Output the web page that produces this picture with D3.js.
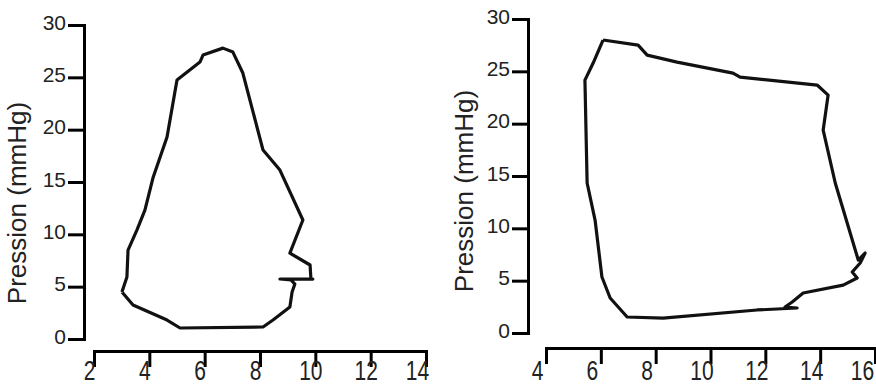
<!DOCTYPE html>
<html>
<head>
<meta charset="utf-8">
<script src="https://cdn.jsdelivr.net/npm/d3@7"></script>
<style>
    body { margin: 0; background: #fff; }
    svg { display: block; }
    .axis path, .axis line { stroke: #000; stroke-width: 3; }
    .axis text { font-family: "Liberation Sans", Arial, sans-serif; font-size: 21px; fill: #222; }
    .title { font-family: "Liberation Sans", Arial, sans-serif; font-size: 26px; fill: #222; }
    .loop { fill: none; stroke: #111; stroke-width: 3.2; stroke-linejoin: round; }
</style>
</head>
<body>
<div id="chart"></div>
<script>
// left loop (volume, pressure)
const leftVolume = [3.01, 3.19, 3.23, 3.55, 3.84, 4.13, 4.64, 5.00, 5.83, 5.94, 6.66, 7.02, 7.38, 8.11, 8.72,
    9.55, 9.08, 9.81, 9.84, 9.91, 8.72, 9.12, 9.26, 9.16, 9.08, 8.47, 8.11, 5.11, 4.64, 3.41, 3.01];
const leftPressure = [4.49, 5.92, 8.50, 10.41, 12.32, 15.38, 19.29, 24.74, 26.46, 27.13, 27.79, 27.41, 25.41, 18.05, 16.14,
    11.37, 8.21, 7.07, 5.73, 5.73, 5.73, 5.64, 5.25, 4.49, 3.06, 1.81, 1.15, 1.05, 1.81, 3.25, 4.49];

// right loop
const rightVolume = [6.08, 7.36, 7.69, 8.78, 10.82, 11.08, 13.89, 14.29, 14.11, 14.55, 15.39, 15.64, 15.46, 15.17, 15.35,
    14.84, 13.38, 12.98, 12.72, 13.16, 11.70, 8.27, 6.96, 6.34, 6.04, 5.79, 5.50, 5.42, 5.72, 6.08];
const rightPressure = [27.99, 27.51, 26.55, 25.88, 24.83, 24.45, 23.69, 22.73, 19.39, 14.33, 6.97, 7.64, 6.69, 5.83, 5.25,
    4.58, 3.82, 2.96, 2.48, 2.39, 2.20, 1.43, 1.53, 3.34, 5.35, 10.79, 14.33, 24.16, 25.79, 27.99];

const yTicks = [0, 5, 10, 15, 20, 25, 30];
const leftXTicks = [2, 4, 6, 8, 10, 12, 14];
const rightXTicks = [4, 6, 8, 10, 12, 14, 16];

const width = 876, height = 386;

let svg = d3.select("#chart").append("svg")
    .attr("width", width)
    .attr("height", height);

function drawPanel(opt) {
    let x = d3.scaleLinear().domain(opt.xDomain).range(opt.xRange);
    let y = d3.scaleLinear().domain([0, 30]).range(opt.yRange);

    // y axis
    let yAxis = svg.append("g")
        .attr("class", "axis")
        .attr("transform", "translate(" + opt.yAxisX + ",0)")
        .call(d3.axisLeft(y).tickValues(yTicks).tickSize(16).tickSizeOuter(0).tickPadding(2));
    yAxis.select(".domain").attr("stroke-linecap", "square");
    yAxis.selectAll("text").attr("dy", "0.2em");

    // x axis, labels are a bit stretched and sit left of the ticks
    let xAxis = svg.append("g")
        .attr("class", "axis")
        .attr("transform", "translate(0," + opt.xAxisY + ")")
        .call(d3.axisBottom(x).tickValues(opt.xTicks).tickSize(16).tickSizeOuter(0));
    xAxis.select(".domain").attr("stroke-linecap", "square");
    let last = opt.xTicks.length - 1;
    xAxis.selectAll("text")
        .attr("y", opt.xLabelY / 1.3)
        .attr("dy", 0)
        .attr("x", (d, i) => i === last ? opt.xLabelDx - 4 : opt.xLabelDx)
        .attr("transform", "scale(1,1.3)");

    svg.append("text")
        .attr("class", "title")
        .attr("text-anchor", "middle")
        .attr("transform", "translate(" + opt.titleX + "," + opt.titleY + ") rotate(-90)")
        .text("Pression (mmHg)");

    let pts = opt.vol.map((v, i) => [v, opt.pres[i]]);
    svg.append("path")
        .attr("class", "loop")
        .attr("d", d3.line().x(d => x(d[0])).y(d => y(d[1]))(pts));
}

drawPanel({
    xDomain: [2, 14], xRange: [94, 426], yRange: [339, 25],
    yAxisX: 84, xAxisY: 351, xTicks: leftXTicks, xLabelY: 29, xLabelDx: -5,
    titleX: 26, titleY: 203,
    vol: leftVolume, pres: leftPressure
});

drawPanel({
    xDomain: [4, 16], xRange: [546, 875], yRange: [333, 19],
    yAxisX: 528, xAxisY: 348, xTicks: rightXTicks, xLabelY: 32, xLabelDx: -9,
    titleX: 473, titleY: 191,
    vol: rightVolume, pres: rightPressure
});
</script>
</body>
</html>
